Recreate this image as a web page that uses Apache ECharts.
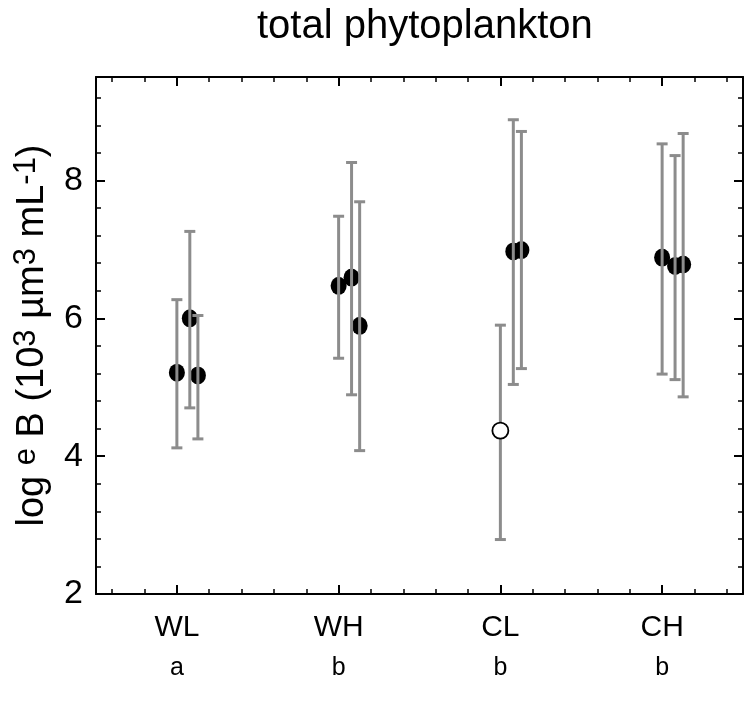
<!DOCTYPE html>
<html><head><meta charset="utf-8">
<script src="https://cdn.jsdelivr.net/npm/echarts@6/dist/echarts.min.js"></script>
<style>html,body{margin:0;padding:0;background:#fff}#c{width:745px;height:709px}</style>
</head><body><div id="c"></div>
<script>
// ---- data ----
const categories = ['WL', 'WH', 'CL', 'CH'];
const groupLetters = ['a', 'b', 'b', 'b'];
const yMajorTicks = [2, 4, 6, 8];
// first point of each group
const mean1 = [5.21, 6.47, 4.37, 6.88];
const low1  = [4.12, 5.42, 2.79, 5.19];
const high1 = [6.27, 7.48, 5.90, 8.53];
const open1 = [false, false, true, false];
// second point
const mean2 = [6.00, 6.59, 6.97, 6.76];
const low2  = [4.70, 4.89, 5.04, 5.11];
const high2 = [7.26, 8.26, 8.88, 8.36];
// third point
const mean3 = [5.17, 5.89, 6.99, 6.78];
const low3  = [4.25, 4.08, 5.27, 4.86];
const high3 = [6.04, 7.69, 8.71, 8.68];

// ---- layout / style ----
const FONT = 'Liberation Sans, Arial, sans-serif';
const offsets = [0, 0.08, 0.13];
const groups = [
  {mean: mean1, low: low1, high: high1, open: open1},
  {mean: mean2, low: low2, high: high2, open: [false, false, false, false]},
  {mean: mean3, low: low3, high: high3, open: [false, false, false, false]}
];
const xMin = -0.5, xMax = categories.length - 0.5;
const yMin = 2, yMax = 9.5;
const xMajor = categories.map((c, i) => i);
const xMinor = [];
for (let i = 0; i <= (xMax - xMin) / 0.2; i++) {
  const v = Math.round((xMin + 0.1 + i * 0.2) * 100) / 100;
  if (v > xMin && v < xMax && Math.abs(v - Math.round(v)) > 1e-6) xMinor.push(v);
}
const yMinor = [];
for (let v = yMin + 0.4; v < yMax - 1e-6; v += 0.4) {
  const r = Math.round(v * 100) / 100;
  if (!yMajorTicks.includes(r)) yMinor.push(r);
}

const gridBox = {left: 96, right: 2, top: 77, bottom: 115, containLabel: false};
const lineBlack = {color: '#000', width: 2};

function xAxisDef(grid, pos, major) {
  return {
    type: 'value', gridIndex: grid, position: pos, min: xMin, max: xMax,
    axisLine: {show: major, onZero: false, lineStyle: lineBlack},
    axisTick: {show: true, inside: true, length: major ? 9 : 5,
      customValues: major ? xMajor : xMinor,
      lineStyle: {color: '#000', width: major ? 2 : 1.5}},
    axisLabel: (major && pos === 'bottom') ? {
      show: true, customValues: xMajor, margin: 14,
      formatter: v => { const i = Math.round(v); return '{n|' + categories[i] + '}\n{s|' + groupLetters[i] + '}'; },
      rich: {
        n: {fontFamily: FONT, fontSize: 30, color: '#000', lineHeight: 40},
        s: {fontFamily: FONT, fontSize: 25, color: '#000', lineHeight: 40}
      }
    } : {show: false},
    splitLine: {show: false}
  };
}
function yAxisDef(grid, pos, major) {
  const def = {
    type: 'value', gridIndex: grid, position: pos, min: yMin, max: yMax,
    axisLine: {show: major, onZero: false, lineStyle: lineBlack},
    axisTick: {show: true, inside: true, length: major ? 9 : 5,
      customValues: major ? yMajorTicks : yMinor,
      lineStyle: {color: '#000', width: major ? 2 : 1.5}},
    axisLabel: (major && pos === 'left') ? {
      show: true, customValues: yMajorTicks, margin: 13,
      fontFamily: FONT, fontSize: 34, color: '#000'
    } : {show: false},
    splitLine: {show: false}
  };
  if (major && pos === 'left') {
    def.name = 'log {sup|e} B (10{sup|3} µm{sup|3} mL{sup|-1})';
    def.nameLocation = 'middle';
    def.nameRotate = 90;
    def.nameGap = 41;
    def.nameTextStyle = {
      fontFamily: FONT, fontSize: 38, color: '#000',
      rich: {
        sup: {fontFamily: FONT, fontSize: 31, color: '#000', verticalAlign: 'top', padding: [0, 0, 13, 0]}
      }
    };
  }
  return def;
}

const series = [];
groups.forEach((g, k) => {
  const filled = [], hollow = [], bars = [];
  categories.forEach((c, i) => {
    const x = i + offsets[k];
    (g.open[i] ? hollow : filled).push([x, g.mean[i]]);
    bars.push([x, g.low[i], g.high[i]]);
  });
  series.push({
    type: 'scatter', xAxisIndex: 0, yAxisIndex: 0, data: filled, z: 2,
    symbol: 'circle', symbolSize: [16, 18], silent: true,
    itemStyle: {color: '#000', opacity: 1}
  });
  series.push({
    type: 'custom', xAxisIndex: 0, yAxisIndex: 0, data: bars, z: 3, silent: true,
    encode: {x: 0, y: [1, 2]},
    renderItem: (params, api) => {
      const x = api.value(0);
      const pLo = api.coord([x, api.value(1)]);
      const pHi = api.coord([x, api.value(2)]);
      const cap = 5.5;
      const st = {stroke: '#8c8c8c', lineWidth: 3};
      return {type: 'group', children: [
        {type: 'line', shape: {x1: pLo[0], y1: pLo[1], x2: pHi[0], y2: pHi[1]}, style: st},
        {type: 'line', shape: {x1: pHi[0] - cap, y1: pHi[1], x2: pHi[0] + cap, y2: pHi[1]}, style: st},
        {type: 'line', shape: {x1: pLo[0] - cap, y1: pLo[1], x2: pLo[0] + cap, y2: pLo[1]}, style: st}
      ]};
    }
  });
  if (hollow.length) {
    series.push({
      type: 'scatter', xAxisIndex: 0, yAxisIndex: 0, data: hollow, z: 5,
      symbol: 'circle', symbolSize: 16, silent: true,
      itemStyle: {color: '#fff', borderColor: '#000', borderWidth: 1.8, opacity: 1}
    });
  }
});

const chart = echarts.init(document.getElementById('c'), null, {renderer: 'canvas'});
chart.setOption({
  animation: false,
  backgroundColor: '#fff',
  title: {
    text: 'total phytoplankton', left: 252, top: 2,
    textStyle: {fontFamily: FONT, fontSize: 40, fontWeight: 'normal', color: '#000'}
  },
  grid: [Object.assign({}, gridBox), Object.assign({}, gridBox)],
  xAxis: [xAxisDef(0, 'bottom', true), xAxisDef(0, 'top', true), xAxisDef(1, 'bottom', false), xAxisDef(1, 'top', false)],
  yAxis: [yAxisDef(0, 'left', true), yAxisDef(0, 'right', true), yAxisDef(1, 'left', false), yAxisDef(1, 'right', false)],
  series: series
});
</script>
</body></html>
